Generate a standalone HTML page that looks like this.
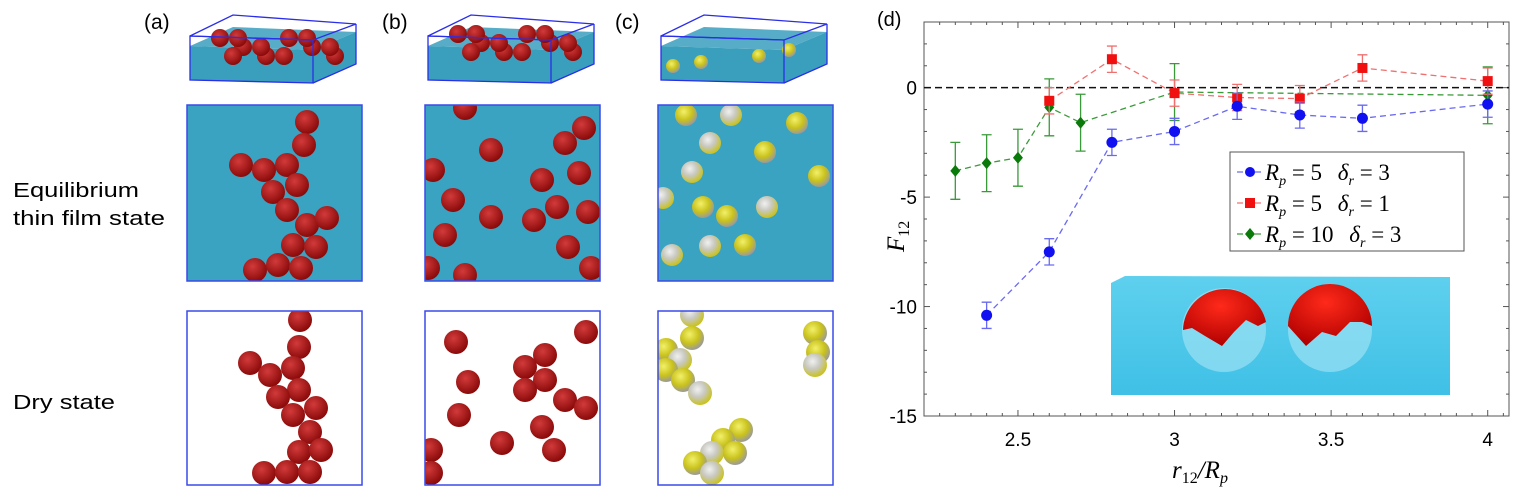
<!DOCTYPE html>
<html><head><meta charset="utf-8"><style>
html,body{margin:0;padding:0;background:#fff;width:1521px;height:490px;overflow:hidden}
svg{display:block}
.sans{font-family:"Liberation Sans",sans-serif}
.serif{font-family:"Liberation Serif",serif;font-style:italic}
</style></head><body>
<svg id="fig" width="1521" height="490" viewBox="0 0 1521 490">
<defs>
<radialGradient id="gr" cx="40%" cy="35%" r="65%"><stop offset="0" stop-color="#d23a3a"/><stop offset="1" stop-color="#8a0a0a"/></radialGradient>
<radialGradient id="gy" cx="40%" cy="35%" r="65%"><stop offset="0" stop-color="#f2f06a"/><stop offset="0.6" stop-color="#c9c21c"/><stop offset="1" stop-color="#9a9a9a"/></radialGradient>
<radialGradient id="gw" cx="40%" cy="35%" r="65%"><stop offset="0" stop-color="#f0f0f0"/><stop offset="0.5" stop-color="#c8c8c0"/><stop offset="1" stop-color="#c9c21c"/></radialGradient>
<radialGradient id="gbig" cx="45%" cy="30%" r="70%"><stop offset="0" stop-color="#ff2a1a"/><stop offset="1" stop-color="#b00000"/></radialGradient>
<linearGradient id="water" x1="0" y1="0" x2="0" y2="1"><stop offset="0" stop-color="#5fd0ee"/><stop offset="1" stop-color="#3fc0e6"/></linearGradient>
<clipPath id="cm0"><rect x="187" y="105" width="175" height="176"/></clipPath>
<clipPath id="cm1"><rect x="425" y="105" width="175" height="176"/></clipPath>
<clipPath id="cm2"><rect x="658" y="105" width="175" height="176"/></clipPath>
<clipPath id="cd0"><rect x="187" y="311" width="175" height="174"/></clipPath>
<clipPath id="cd1"><rect x="425" y="311" width="175" height="174"/></clipPath>
<clipPath id="cd2"><rect x="658" y="311" width="175" height="174"/></clipPath>
</defs>
<g id="left">
<text class="sans" x="144" y="29" font-size="21">(a)</text>
<text class="sans" x="382" y="29" font-size="21">(b)</text>
<text class="sans" x="615" y="29" font-size="21">(c)</text>
<text class="sans" x="13" y="197" font-size="20" textLength="126" lengthAdjust="spacingAndGlyphs">Equilibrium</text>
<text class="sans" x="13" y="225" font-size="20" textLength="152" lengthAdjust="spacingAndGlyphs">thin film state</text>
<text class="sans" x="13" y="409" font-size="20" textLength="102" lengthAdjust="spacingAndGlyphs">Dry state</text>
</g>
<g id="chart"></g>
</svg>
<script>
// ---- chart data ----
const blueX = [2.4, 2.6, 2.8, 3.0, 3.2, 3.4, 3.6, 4.0];
const blueY = [-10.4, -7.5, -2.5, -2.0, -0.85, -1.25, -1.4, -0.75];
const blueErr = [0.6, 0.6, 0.6, 0.6, 0.6, 0.6, 0.6, 0.6];
const redX = [2.6, 2.8, 3.0, 3.2, 3.4, 3.6, 4.0];
const redY = [-0.6, 1.3, -0.25, -0.45, -0.5, 0.9, 0.3];
const redErr = [0.6, 0.6, 0.6, 0.6, 0.6, 0.6, 0.6];
const greenX = [2.3, 2.4, 2.5, 2.6, 2.7, 3.0, 4.0];
const greenY = [-3.8, -3.45, -3.2, -0.9, -1.6, -0.2, -0.35];
const greenErr = [1.3, 1.3, 1.3, 1.3, 1.3, 1.3, 1.3];
const xTicks = [2.5, 3, 3.5, 4];
const xTickLabels = ["2.5", "3", "3.5", "4"];
const yTicks = [0, -5, -10, -15];
const yTickLabels = ["0", "-5", "-10", "-15"];

const NS = "http://www.w3.org/2000/svg";
const X0 = 924, X1 = 1509, Y0 = 22, Y1 = 416;
const xMin = 2.2, xMax = 4.068, yMin = -15, yMax = 3;
function sx(v){ return X0 + (v - xMin) / (xMax - xMin) * (X1 - X0); }
function sy(v){ return Y1 - (v - yMin) / (yMax - yMin) * (Y1 - Y0); }
function mk(tag, attrs, parent){ const e = document.createElementNS(NS, tag); for (const k in attrs) e.setAttribute(k, attrs[k]); parent.appendChild(e); return e; }

const chart = document.getElementById('chart');

// ---- left decorative panels ----
const left = document.getElementById('left');
const panelX = [187, 425, 658];
function sphere(g, cx, cy, fill, r){
  const c = mk('circle', {cx: cx, cy: cy, r: r || 12, fill: fill}, g);
  
  
}
const midGroups = [], dryGroups = [];
panelX.forEach(function(px, i){
  const g = mk('g', {}, left);
  
  
  const ox = px + 3, oy = 36;
  mk('polygon', {points: (ox)+','+(oy+10)+' '+(ox+123)+','+(oy+14)+' '+(ox+166)+','+(oy-4)+' '+(ox+43)+','+(oy-9), fill:'#3a9fbd', opacity:0.85}, g);
  mk('polygon', {points: ox+','+(oy+10)+' '+(ox+123)+','+(oy+14)+' '+(ox+123)+','+(oy+47)+' '+ox+','+(oy+44), fill: '#3a9fbd'}, g);
  mk('polygon', {points: (ox+123)+','+(oy+14)+' '+(ox+166)+','+(oy-4)+' '+(ox+166)+','+(oy+28)+' '+(ox+123)+','+(oy+47), fill:'#3a9fbd'}, g);
  if (i < 2) {
    for (let k = 0; k < 12; k++) sphere(g, ox + 30 + (k * 23) % 120, oy + 2 + (k % 3) * 9 - (i ? 4 : 0), 'url(#gr)', 9);
  } else {
    [[12,30],[40,26],[98,20],[128,14]].forEach(function(p){ sphere(g, ox + p[0], oy + p[1], 'url(#gy)', 7); });
  }
  const st = {fill:'none', stroke:'#2a2ee8', 'stroke-width':1.3};
  mk('polygon', Object.assign({points: ox+','+oy+' '+(ox+123)+','+(oy+4)+' '+(ox+123)+','+(oy+47)+' '+ox+','+(oy+44)}, st), g);
  mk('polygon', Object.assign({points: ox+','+oy+' '+(ox+43)+','+(oy-21)+' '+(ox+166)+','+(oy-12)+' '+(ox+123)+','+(oy+4)}, st), g);
  mk('polyline', Object.assign({points: (ox+166)+','+(oy-12)+' '+(ox+166)+','+(oy+28)+' '+(ox+123)+','+(oy+47)}, st), g);

  const m = mk('g', {'clip-path': 'url(#cm' + i + ')'}, left);
  
  
  mk('rect', {x: px, y: 105, width: 175, height: 176, fill: '#3aa3c2'}, m);
  midGroups.push(m);
  const b = mk('g', {'clip-path': 'url(#cd' + i + ')'}, left);
  
  
  mk('rect', {x: px, y: 311, width: 175, height: 174, fill: '#fff'}, b);
  dryGroups.push(b);
});
const midA = [[307,122],[304,145],[241,165],[264,170],[287,165],[297,185],[273,192],[287,210],[307,225],[327,218],[293,245],[316,247],[255,270],[278,265],[301,268]];
const midB = [[465,108],[584,128],[565,143],[491,150],[433,170],[542,180],[579,173],[453,200],[557,207],[588,212],[491,217],[534,220],[445,235],[568,247],[428,268],[465,275],[591,268]];
const midC = [[686,115],[731,115],[797,123],[710,143],[765,152],[692,172],[819,176],[663,198],[703,207],[767,207],[727,216],[710,246],[745,245],[672,255]];
const dryA = [[300,320],[299,347],[250,363],[270,375],[293,368],[299,390],[278,397],[293,415],[316,408],[310,432],[299,452],[321,450],[264,473],[287,472],[310,472]];
const dryB = [[586,332],[456,342],[545,355],[525,367],[545,380],[468,382],[525,390],[565,400],[586,408],[459,415],[542,427],[502,443],[554,450],[431,450],[431,473]];
const dryC = [[692,315],[692,338],[666,350],[680,360],[666,370],[683,380],[700,393],[815,333],[818,352],[815,365],[741,430],[723,440],[712,453],[735,453],[695,463],[712,473]];
midA.forEach(function(p){ sphere(midGroups[0], p[0], p[1], 'url(#gr)'); });
midB.forEach(function(p){ sphere(midGroups[1], p[0], p[1], 'url(#gr)'); });
midC.forEach(function(p, i){ sphere(midGroups[2], p[0], p[1], i % 2 ? 'url(#gw)' : 'url(#gy)', 11); });
dryA.forEach(function(p){ sphere(dryGroups[0], p[0], p[1], 'url(#gr)'); });
dryB.forEach(function(p){ sphere(dryGroups[1], p[0], p[1], 'url(#gr)'); });
dryC.forEach(function(p, i){ sphere(dryGroups[2], p[0], p[1], i % 3 === 0 ? 'url(#gw)' : 'url(#gy)'); });
panelX.forEach(function(px){
  mk('rect', {x: px, y: 105, width: 175, height: 176, fill: 'none', stroke: '#3a4ae8', 'stroke-width': 1.5}, left);
  mk('rect', {x: px, y: 311, width: 175, height: 174, fill: 'none', stroke: '#3a4ae8', 'stroke-width': 1.5}, left);
});

// ---- chart ----
const lbl = mk('text', {x: 877, y: 26, 'font-size': 20, class: 'sans'}, chart);
lbl.textContent = '(d)';



// inset image
const inset = mk('g', {}, chart);


mk('polygon', {points: '1111,283 1125,276 1450,277 1450,395 1111,395', fill: 'url(#water)'}, inset);
mk('circle', {cx: 1224, cy: 330, r: 42, fill: '#a9e6f5', opacity: 0.6}, inset);
mk('circle', {cx: 1330, cy: 330, r: 42, fill: '#a9e6f5', opacity: 0.6}, inset);
mk('path', {d: 'M1183,330 A42,42 0 0 1 1266,322 L1258,326 L1246,320 L1234,332 L1222,346 L1205,336 L1192,328 Z', fill: 'url(#gbig)'}, inset);
mk('path', {d: 'M1288,326 A42,42 0 0 1 1372,326 L1362,322 L1350,322 L1336,336 L1322,332 L1306,346 Z', fill: 'url(#gbig)'}, inset);

// axes box
const box = mk('rect', {x: X0, y: Y0, width: X1 - X0, height: Y1 - Y0, fill: 'none', stroke: '#555', 'stroke-width': 1}, chart);


for (let v = 2.25; v <= 4.06; v += 0.05) {
  const x = sx(v);
  const major = Math.abs(v * 2 - Math.round(v * 2)) < 1e-6;
  const L = major ? 6 : 3;
  mk('line', {x1: x, y1: Y1, x2: x, y2: Y1 - L, stroke: '#555'}, chart);
  mk('line', {x1: x, y1: Y0, x2: x, y2: Y0 + L, stroke: '#555'}, chart);
}
for (let v = -14; v <= 2; v += 1) {
  const y = sy(v);
  const L = v % 5 === 0 ? 6 : 3;
  mk('line', {x1: X0, y1: y, x2: X0 + L, y2: y, stroke: '#555'}, chart);
  mk('line', {x1: X1, y1: y, x2: X1 - L, y2: y, stroke: '#555'}, chart);
}
xTicks.forEach(function(v, i){
  const t = mk('text', {x: sx(v), y: 446, 'font-size': 19, 'text-anchor': 'middle', class: 'sans'}, chart);
  t.textContent = xTickLabels[i];
  
  
});
yTicks.forEach(function(v, i){
  const t = mk('text', {x: 917, y: sy(v) + 7, 'font-size': 19, 'text-anchor': 'end', class: 'sans'}, chart);
  t.textContent = yTickLabels[i];
  
  
});
const xt = mk('text', {x: 1172, y: 478, 'font-size': 25, class: 'serif'}, chart);
xt.innerHTML = 'r<tspan font-size="16" font-style="normal" dy="5">12</tspan><tspan dy="-5">/R</tspan><tspan font-size="16" dy="5">p</tspan>';


const yt = mk('text', {x: 0, y: 0, 'font-size': 25, class: 'serif', transform: 'translate(904,252) rotate(-90)'}, chart);
yt.innerHTML = 'F<tspan font-size="16" font-style="normal" dy="5">12</tspan>';



// zero line
const zl = mk('line', {x1: X0, y1: sy(0), x2: X1, y2: sy(0), stroke: '#111', 'stroke-width': 1.5, 'stroke-dasharray': '7,4'}, chart);



function series(xs, ys, es, color, lineColor, shape, name){
  const g = mk('g', {}, chart);
  
  
  const pts = xs.map(function(v, i){ return sx(v) + ',' + sy(ys[i]); }).join(' ');
  mk('polyline', {points: pts, fill: 'none', stroke: lineColor, 'stroke-width': 1.3, 'stroke-dasharray': '6,4'}, g);
  xs.forEach(function(v, i){
    const x = sx(v), yt2 = sy(ys[i] + es[i]), yb = sy(ys[i] - es[i]);
    const eb = mk('path', {d: 'M' + x + ',' + yt2 + 'V' + yb + 'M' + (x - 5) + ',' + yt2 + 'H' + (x + 5) + 'M' + (x - 5) + ',' + yb + 'H' + (x + 5), stroke: lineColor, 'stroke-width': 1.3, fill: 'none'}, g);
    
    
  });
  xs.forEach(function(v, i){
    const x = sx(v), y = sy(ys[i]);
    let m;
    if (shape === 'circle') m = mk('circle', {cx: x, cy: y, r: 5.5, fill: color}, g);
    else if (shape === 'square') m = mk('rect', {x: x - 5, y: y - 5, width: 10, height: 10, fill: color}, g);
    else m = mk('polygon', {points: x + ',' + (y - 6) + ' ' + (x + 5) + ',' + y + ' ' + x + ',' + (y + 6) + ' ' + (x - 5) + ',' + y, fill: color}, g);
    
    
  });
}
series(greenX, greenY, greenErr, '#0a7a0a', '#3a9a3a', 'diamond', 'series-rp10-dr3');
series(redX, redY, redErr, '#f01010', '#f07070', 'square', 'series-rp5-dr1');
series(blueX, blueY, blueErr, '#1010f0', '#6a6af0', 'circle', 'series-rp5-dr3');

// legend
const lg = mk('g', {}, chart);


mk('rect', {x: 1230, y: 152, width: 234, height: 99, fill: '#fff', stroke: '#555', 'stroke-width': 1}, lg);
const legColors = ['#1010f0', '#f01010', '#0a7a0a'];
const legLine = ['#6a6af0', '#f07070', '#3a9a3a'];
const legText = [['5','3'], ['5','1'], ['10','3']];
legText.forEach(function(t, i){
  const y = 172 + i * 31;
  const e = mk('g', {}, lg);
  
  
  mk('line', {x1: 1237, y1: y, x2: 1262, y2: y, stroke: legLine[i], 'stroke-width': 1.3, 'stroke-dasharray': '6,3'}, e);
  if (i === 0) mk('circle', {cx: 1250, cy: y, r: 5, fill: legColors[i]}, e);
  else if (i === 1) mk('rect', {x: 1245, y: y - 5, width: 10, height: 10, fill: legColors[i]}, e);
  else mk('polygon', {points: '1250,' + (y - 6) + ' 1255,' + y + ' 1250,' + (y + 6) + ' 1245,' + y, fill: legColors[i]}, e);
  const tx = mk('text', {x: 1265, y: y + 8, 'font-size': 23, class: 'serif'}, e);
  tx.innerHTML = 'R<tspan font-size="14" dy="5">p</tspan><tspan dy="-5" font-style="normal"> = ' + t[0] + (t[0].length > 1 ? '   ' : '  ') + '</tspan><tspan dx="10">δ</tspan><tspan font-size="14" dy="5">r</tspan><tspan dy="-5" font-style="normal"> = ' + t[1] + '</tspan>';
  tx.setAttribute('xml:space', 'preserve');
});
</script>
</body></html>
